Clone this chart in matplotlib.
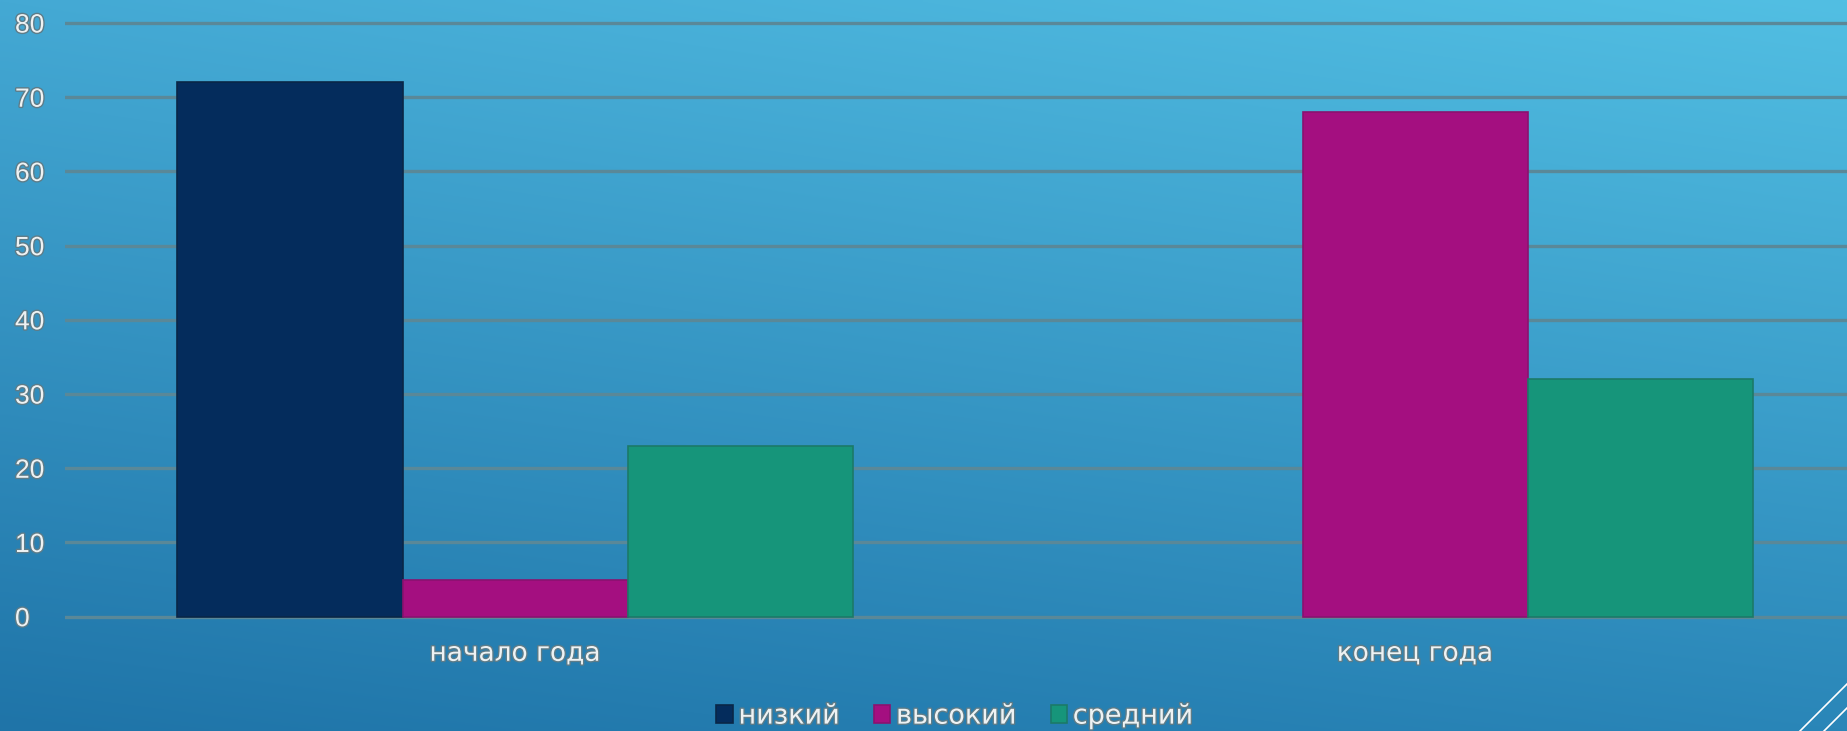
import numpy as np
import matplotlib
matplotlib.use("Agg")
import matplotlib.pyplot as plt
import matplotlib.patheffects as pe
from matplotlib.lines import Line2D

categories = ["начало года", "конец года"]
series_names = ["низкий", "высокий", "средний"]
nizkiy = [72, 0]
vysokiy = [5, 68]
sredniy = [23, 32]
y_ticks = [0, 10, 20, 30, 40, 50, 60, 70, 80]

colors = ["#042c5c", "#a40f80", "#16957a"]
edge_colors = ["#0a2747", "#8a1270", "#1c7a68"]

plt.rcParams['font.family'] = ['DejaVu Sans']

W, H = 1847, 731
fig = plt.figure(figsize=(W / 100, H / 100), dpi=100)

# background gradient
bg = fig.add_axes([0, 0, 1, 1], zorder=-10)
tl = np.array([0x44, 0xa9, 0xd4]) / 255
tr = np.array([0x52, 0xbf, 0xe3]) / 255
bl = np.array([0x1f, 0x74, 0xa8]) / 255
br = np.array([0x2a, 0x86, 0xb8]) / 255
ny, nx = 200, 200
yy = np.linspace(0, 1, ny)[:, None, None]
xx = np.linspace(0, 1, nx)[None, :, None]
img = (1 - yy) * ((1 - xx) * tl + xx * tr) + yy * ((1 - xx) * bl + xx * br)
bg.imshow(img, aspect='auto', extent=[0, 1, 0, 1], origin='upper', interpolation='bilinear')
bg.set_axis_off()

px_unit = 7.42
y0 = 616.7
ax_bottom = (H - (y0 + px_unit * 1)) / H
ax_top = (H - (23 - px_unit * 1)) / H
ax = fig.add_axes([65 / W, ax_bottom, 1 - 65 / W, ax_top - ax_bottom])
ax.patch.set_alpha(0)
for s in ax.spines.values():
    s.set_visible(False)

x = np.arange(len(categories))
bw = 0.25
for i, (vals, name) in enumerate(zip([nizkiy, vysokiy, sredniy], series_names)):
    bars = ax.bar(x + (i - 1) * bw, vals, width=bw, color=colors[i], edgecolor=edge_colors[i],
                  linewidth=1.2, label=name, zorder=3)
    for b, v in zip(bars, vals):
        if v == 0:
            b.set_linewidth(0)

ax.set_xlim(-0.5, 1.5 - (1865 - W) / 900)
ax.set_ylim(-1, 81)
ax.set_yticks(y_ticks)
ax.set_xticks(x)
ax.set_xticklabels(categories)
ax.yaxis.grid(True, color="#5a8898", linewidth=2.4, zorder=1)
ax.set_axisbelow(True)
ax.tick_params(axis='both', length=0)
ax.tick_params(axis='y', pad=36)
ax.tick_params(axis='x', pad=12)

txt_effects = [pe.withStroke(linewidth=2.0, foreground="#5e7c88")]
for lbl in ax.get_yticklabels():
    lbl.set_horizontalalignment('left')
    lbl.set_fontsize(19)
    lbl.set_family(['Liberation Sans', 'DejaVu Sans'])
    lbl.set_color("#eef2f3")
    lbl.set_path_effects(txt_effects)
for lbl in ax.get_xticklabels():
    lbl.set_fontsize(19)
    lbl.set_color("#eef2f3")
    lbl.set_path_effects(txt_effects)

leg = fig.legend(loc='center', bbox_to_anchor=(0.517, 0.020), ncol=3, frameon=False,
                 fontsize=19.5, handlelength=0.6, handleheight=0.6, handletextpad=0.22,
                 columnspacing=1.25, borderaxespad=0)
for t in leg.get_texts():
    t.set_color("#eef2f3")
    t.set_path_effects(txt_effects)

# decorative corner lines
fig.add_artist(Line2D([1800 / W, 1.0], [0, (H - 684) / H], color="white", linewidth=1.2, transform=fig.transFigure))
fig.add_artist(Line2D([1824 / W, 1.0], [0, (H - 708) / H], color="white", linewidth=1.2, transform=fig.transFigure))

fig.savefig("out.png", dpi=100)
